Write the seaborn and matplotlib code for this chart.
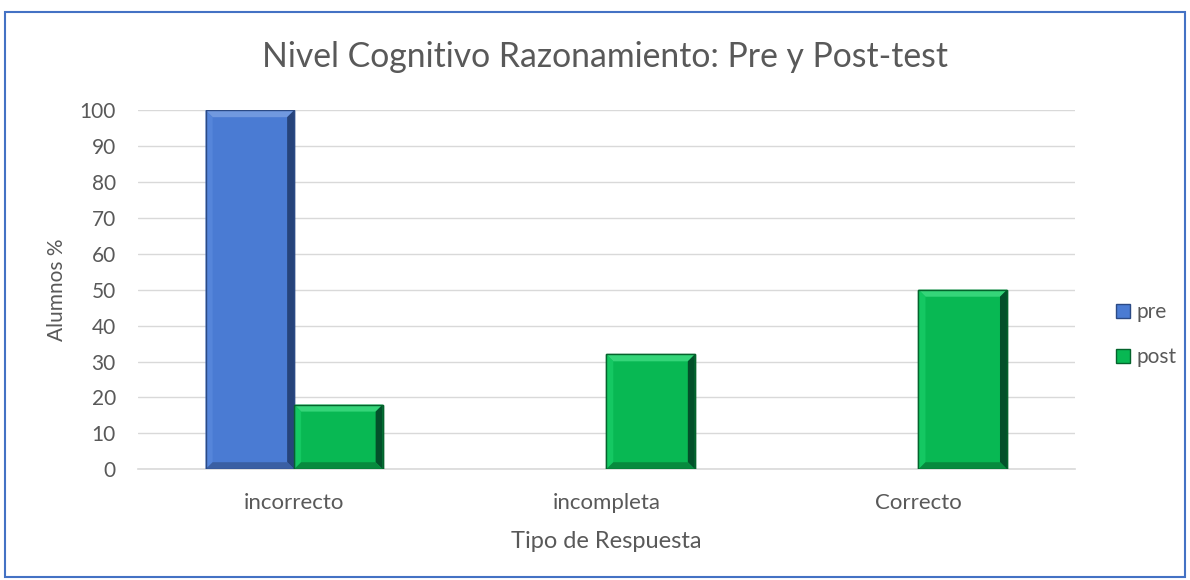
import matplotlib
matplotlib.use("Agg")
import matplotlib.pyplot as plt
import seaborn as sns
import pandas as pd
from matplotlib.patches import Rectangle, Polygon

categories = ["incorrecto", "incompleta", "Correcto"]
pre = [100, 0, 0]
post = [18, 32, 50]
series = ["pre", "post"]
yticks = list(range(0, 101, 10))

df = pd.DataFrame({
    "cat": categories * 2,
    "serie": ["pre"] * 3 + ["post"] * 3,
    "val": pre + post,
})

sns.set_theme(style="white")
plt.rcParams["font.family"] = ["Lato", "DejaVu Sans"]
txt = "#595959"

fig = plt.figure(figsize=(11.9, 5.8), dpi=100)
ax = fig.add_axes([0.116, 0.191, 0.787, 0.619])

palette = {"pre": "#4A7BD3", "post": "#08B853"}
bevel = {
    "pre": {"top": "#7199DF", "left": "#5585DA", "right": "#26437A", "bottom": "#3A5FA3", "edge": "#2B4A85"},
    "post": {"top": "#35D579", "left": "#14C862", "right": "#03502A", "bottom": "#078A3E", "edge": "#04632C"},
}
sns.barplot(data=df, x="cat", y="val", hue="serie", order=categories,
            hue_order=series, palette=palette, width=0.567, ax=ax,
            saturation=1, legend=True, zorder=3)

ax.set_ylim(0, 100)
ax.set_xlim(-0.5, 2.5)

# bevel decoration derived from each bar's own geometry
bw_px = 7.0
ppx = (ax.get_position().width * 1190) / 3.0
ppy = (ax.get_position().height * 580) / 100.0
dx = bw_px / ppx
dy = bw_px / ppy
for cont, s in zip(ax.containers, series):
    c = bevel[s]
    for b in cont:
        h = b.get_height()
        if h <= 0:
            b.set_linewidth(0)
            continue
        b.set_edgecolor(c["edge"])
        b.set_linewidth(1.0)
        x0, w, y0 = b.get_x(), b.get_width(), b.get_y()
        x1, y1 = x0 + w, y0 + h
        d = min(dy, h / 2.5)
        polys = [
            ([(x0, y1), (x1, y1), (x1 - dx, y1 - d), (x0 + dx, y1 - d)], c["top"]),
            ([(x0, y0), (x0, y1), (x0 + dx, y1 - d), (x0 + dx, y0 + d)], c["left"]),
            ([(x1, y0), (x1, y1), (x1 - dx, y1 - d), (x1 - dx, y0 + d)], c["right"]),
            ([(x0, y0), (x1, y0), (x1 - dx, y0 + d), (x0 + dx, y0 + d)], c["bottom"]),
        ]
        for pts, col in polys:
            ax.add_patch(Polygon(pts, closed=True, facecolor=col,
                                 edgecolor="none", zorder=3.5))
        ax.add_patch(Rectangle((x0, y0), w, h, fill=False,
                               edgecolor=c["edge"], linewidth=1.0, zorder=3.6))

ax.set_yticks(yticks)
ax.yaxis.grid(True, color="#D9D9D9", linewidth=1, zorder=0)
ax.set_axisbelow(True)
for sp in ["top", "right", "left"]:
    ax.spines[sp].set_visible(False)
ax.spines["bottom"].set_color("#D9D9D9")
ax.spines["bottom"].set_linewidth(1.2)
ax.tick_params(axis="y", length=0, labelsize=15, colors=txt, pad=16)
ax.tick_params(axis="x", length=0, labelsize=16, colors=txt, pad=17)
ax.set_xlabel("Tipo de Respuesta", fontsize=17, color=txt, labelpad=13)
ax.set_ylabel("Alumnos %", fontsize=15, color=txt, labelpad=9)

fig.suptitle("Nivel Cognitivo Razonamiento: Pre y Post-test", fontsize=24.3,
             color=txt, x=605 / 1190, y=1 - 57 / 580, va="center")

leg = ax.legend(loc="center left", bbox_to_anchor=(1.024, 0.375), frameon=False,
                fontsize=15, labelcolor=txt, handlelength=0.67,
                handleheight=0.67, labelspacing=1.2, handletextpad=0.3)
for hnd, s in zip(leg.legend_handles, series):
    hnd.set_edgecolor(bevel[s]["edge"])
    hnd.set_linewidth(1.0)

fig.patches.append(Rectangle((5 / 1190, 3 / 580), 1180 / 1190, 565 / 580,
                             transform=fig.transFigure, fill=False,
                             edgecolor="#4472C4", linewidth=1.5))

fig.savefig("out.png", dpi=100)
